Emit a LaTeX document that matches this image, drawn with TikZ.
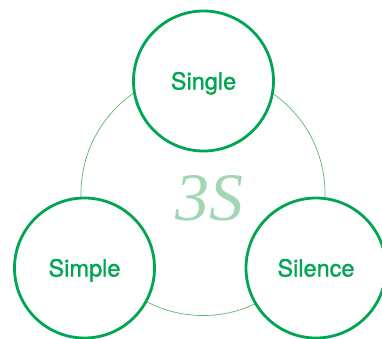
\documentclass[tikz,border=0pt]{standalone}
\usepackage{fontspec}
\newfontfamily\labfont[FakeBold=1.2]{TeX Gyre Heros}
\newfontfamily\tsfont{Liberation Serif}
\definecolor{sgreen}{HTML}{00A651}
\definecolor{lgreen}{HTML}{5DB36E}
\definecolor{pgreen}{HTML}{A3D7B4}
\begin{document}
\begin{tikzpicture}[x=1pt,y=-1pt,
  bigc/.style={circle,draw=sgreen,line width=2.8pt,fill=white,minimum size=140pt,inner sep=0pt,
    text=sgreen,font=\labfont\fontsize{23.5}{23.5}\selectfont,text height=17pt,text depth=0pt}]
\useasboundingbox (0,0) rectangle (382,338);
\node[circle,draw=lgreen,line width=0.7pt,minimum size=244pt,inner sep=0pt] (ring) at (203,193.5) {};
\node[font=\tsfont\itshape\fontsize{68}{68}\selectfont,text=pgreen,text height=46pt,text depth=0pt] (three) at (209,197.5) {3S};
\node[bigc] (single) at (203.5,81) {Single};
\node[bigc] (simple) at (84.5,268) {Simple};
\node[bigc] (silence) at (316,268) {Silence};
\end{tikzpicture}
\end{document}
